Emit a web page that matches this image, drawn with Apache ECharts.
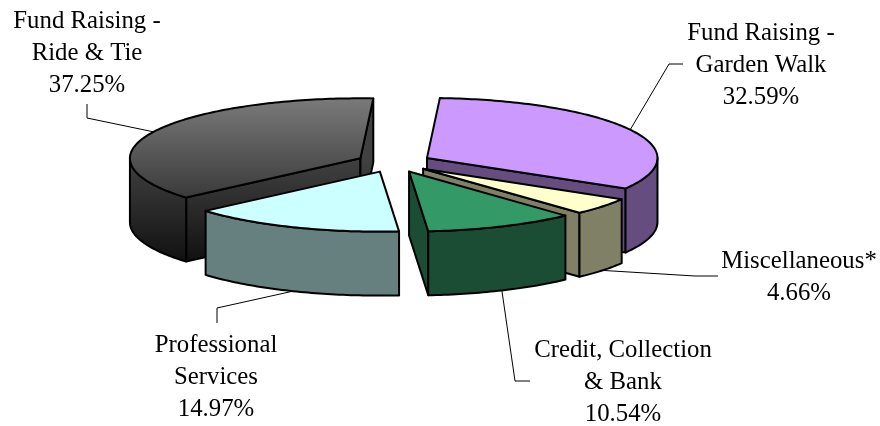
<!DOCTYPE html>
<html>
<head>
<meta charset="utf-8">
<title>Expenses</title>
<script src="https://cdn.jsdelivr.net/npm/echarts@6/dist/echarts.min.js"></script>
<style>
html,body{margin:0;padding:0;background:#fff}
#main{width:880px;height:426px}
</style>
</head>
<body>
<div id="main"></div>
<script>
var categories = ['Fund Raising -\nGarden Walk', 'Miscellaneous*', 'Credit, Collection\n& Bank', 'Professional\nServices', 'Fund Raising -\nRide & Tie'];
var percents = [32.59, 4.66, 10.54, 14.97, 37.25];

// label centre + the elbow the leader line goes through
var labelPos = [[761, 65], [799, 277], [623, 382], [216, 377], [87, 53]];
var leaderTail = [[[683, 64], [669, 64]], [[718, 276], [695, 276]], [[530, 381], [515, 381]], [[217, 323], [217, 308]], [[87, 104], [87, 118]]];
var topColors = ['#cc99ff', '#ffffcc', '#339966', '#ccffff', null];
var sideColors = ['#664d80', '#808066', '#1a4d33', '#668080', null];

var cx = 394, cy = 162.6, rx = 230.5, ry = 60, depth = 64, explode = 37.4, firstAngle = 3.2;
var total = percents.reduce(function (a, b) { return a + b; }, 0);

var rideTop = new echarts.graphic.LinearGradient(0, 98, 0, 198, [{offset: 0, color: '#7a7a7a'}, {offset: 1, color: '#3a3a3a'}], true);
var rideSide = new echarts.graphic.LinearGradient(0, 158, 0, 262, [{offset: 0, color: '#414141'}, {offset: 1, color: '#111111'}], true);

function rad(d) { return d * Math.PI / 180; }

function rim(o, a, dy) {
    return [o[0] + rx * Math.sin(rad(a)), o[1] - ry * Math.cos(rad(a)) + (dy || 0)];
}
function arcPoints(o, a, b, dy) {
    var pts = [], n = Math.max(2, Math.ceil(Math.abs(b - a)));
    for (var i = 0; i <= n; i++) pts.push(rim(o, a + (b - a) * i / n, dy));
    return pts;
}
function face(points, fill, z2) {
    return {type: 'polygon', z2: z2, shape: {points: points}, style: {fill: fill, stroke: '#000', lineWidth: 2, lineJoin: 'round'}};
}

function renderSlice(params) {
    var i = params.dataIndex, start = firstAngle;
    for (var k = 0; k < i; k++) start += percents[k] / total * 360;
    var end = start + percents[i] / total * 360;
    var mid = (start + end) / 2;
    var o = [cx + explode * Math.sin(rad(mid)), cy - explode * ry / rx * Math.cos(rad(mid))];
    var z = Math.round(100 - Math.cos(rad(mid)) * 100) * 10;
    var top = topColors[i] || rideTop, side = sideColors[i] || rideSide;
    var kids = [];

    // leader line goes under its own slice
    var front = Math.cos(rad(mid)) < 0;
    var tail = leaderTail[i];
    kids.push({type: 'polyline', z2: z - 1, shape: {points: [tail[0], tail[1], rim(o, mid, front ? depth : 0)]}, style: {fill: null, stroke: '#000', lineWidth: 1}});

    // radial walls, only the ones that face the viewer
    if (Math.sin(rad(start)) < 0) {
        var s = rim(o, start);
        kids.push(face([o, s, [s[0], s[1] + depth], [o[0], o[1] + depth]], side, z + 1));
    }
    if (Math.sin(rad(end)) > 0) {
        var e = rim(o, end);
        kids.push(face([o, e, [e[0], e[1] + depth], [o[0], o[1] + depth]], side, z + 1));
    }
    // outer wall: front half of the rim only
    var a = Math.max(start, 90), b = Math.min(end, 270);
    if (a < b) {
        var wall = arcPoints(o, a, b).concat(arcPoints(o, b, a, depth));
        kids.push(face(wall, side, z + 2));
    }
    kids.push(face([o].concat(arcPoints(o, start, end)), top, z + 3));

    kids.push({
        type: 'text', z2: 5000, x: labelPos[i][0], y: labelPos[i][1],
        style: {
            text: categories[i] + '\n' + percents[i].toFixed(2) + '%',
            font: '24.8px "Liberation Serif"', lineHeight: 32,
            align: 'center', verticalAlign: 'middle', fill: '#000'
        }
    });
    return {type: 'group', children: kids};
}

var myChart = echarts.init(document.getElementById('main'));
myChart.setOption({
    animation: false,
    backgroundColor: '#fff',
    series: [{
        type: 'custom',
        coordinateSystem: 'none',
        renderItem: renderSlice,
        data: percents
    }]
});
</script>
</body>
</html>
